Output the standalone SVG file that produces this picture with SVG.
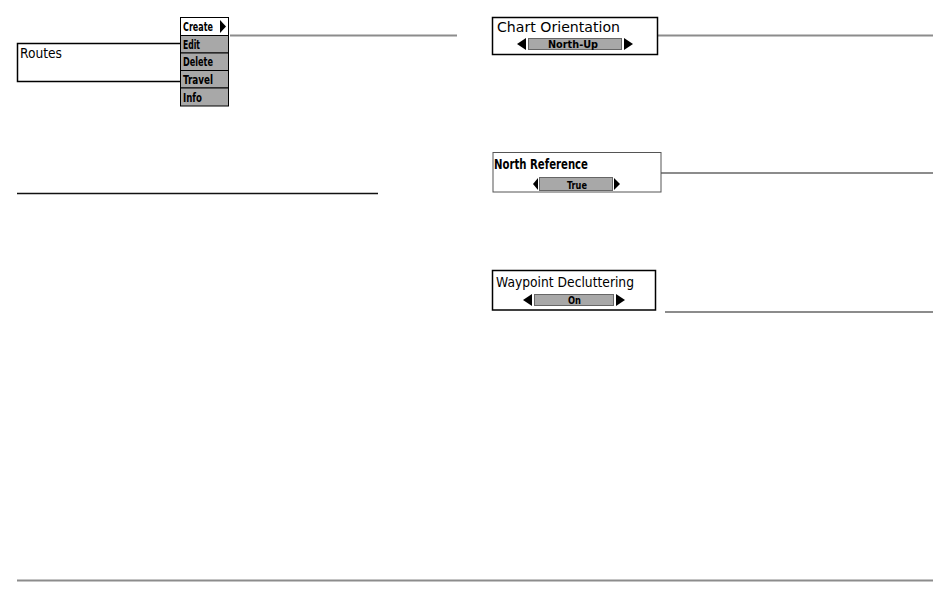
<svg xmlns="http://www.w3.org/2000/svg" width="950" height="600" viewBox="0 0 950 600">
<style>
.box{fill:#fff;stroke:#000;stroke-width:1.5}
.mi{fill:#a8a8a8;stroke:#000;stroke-width:1}
.mt{font-family:"DejaVu Sans","Liberation Sans",sans-serif;font-stretch:condensed;font-weight:bold;font-size:12px;fill:#000}
.title{font-family:"DejaVu Sans","Liberation Sans",sans-serif;font-size:13.5px;fill:#000}
.btitle{font-family:"DejaVu Sans","Liberation Sans",sans-serif;font-stretch:condensed;font-weight:bold;font-size:14px;fill:#000}
.bar{fill:#a8a8a8;stroke:#666;stroke-width:1}
.bt{font-family:"DejaVu Sans","Liberation Sans",sans-serif;font-stretch:condensed;font-weight:bold;font-size:11px;fill:#000}
.lead{stroke:#8c8c8c;stroke-width:2;fill:none}
</style>
<g id="connectors">
<line class="lead" x1="230" y1="35.5" x2="457" y2="35.5"/>
<line class="lead" x1="658" y1="35.5" x2="933" y2="35.5"/>
<line class="lead" x1="661" y1="173" x2="933" y2="173"/>
<line class="lead" x1="665" y1="312" x2="933" y2="312"/>
<line x1="17" y1="193.5" x2="378" y2="193.5" stroke="#111" stroke-width="1.5"/>
<line class="lead" x1="17" y1="580.5" x2="933" y2="580.5"/>
</g>
<g id="routes">
<path d="M181,43.5 H17.5 V81.5 H181" fill="#fff" stroke="#000" stroke-width="1.5"/>
<text x="20" y="58" class="title" textLength="42" lengthAdjust="spacingAndGlyphs">Routes</text>
</g>
<g id="routes-menu">
<rect x="180.5" y="17.5" width="48" height="18" fill="#fff" stroke="#000" stroke-width="1"/>
<text x="183" y="31" class="mt" textLength="30" lengthAdjust="spacingAndGlyphs">Create</text>
<polygon points="220,20 220,33 226,26.5" fill="#000"/>
<rect x="180.5" y="35.5" width="48" height="17.5" class="mi"/>
<text x="183" y="48.5" class="mt" textLength="17" lengthAdjust="spacingAndGlyphs">Edit</text>
<rect x="180.5" y="53" width="48" height="17.5" class="mi"/>
<text x="183" y="66" class="mt" textLength="30" lengthAdjust="spacingAndGlyphs">Delete</text>
<rect x="180.5" y="70.5" width="48" height="17.5" class="mi"/>
<text x="183" y="83.5" class="mt" textLength="30" lengthAdjust="spacingAndGlyphs">Travel</text>
<rect x="180.5" y="88" width="48" height="18" class="mi"/>
<text x="183" y="101.5" class="mt" textLength="19" lengthAdjust="spacingAndGlyphs">Info</text>
</g>
<g id="chart-orientation">
<rect x="492.5" y="17.5" width="165" height="37" class="box"/>
<text x="497" y="31.5" class="title" textLength="123" lengthAdjust="spacingAndGlyphs">Chart Orientation</text>
<rect x="528.5" y="38.5" width="93" height="11" class="bar"/>
<text x="548" y="47.5" class="bt" textLength="50" lengthAdjust="spacingAndGlyphs">North-Up</text>
<polygon points="517,44 526,38 526,50" fill="#000"/>
<polygon points="624,38 624,50 633,44" fill="#000"/>
</g>
<g id="north-reference">
<rect x="493" y="152.5" width="168" height="39.5" fill="#fff" stroke="#555" stroke-width="1"/>
<text x="494" y="169" class="btitle" textLength="94" lengthAdjust="spacingAndGlyphs">North Reference</text>
<rect x="539.5" y="177.5" width="73" height="13" class="bar"/>
<text x="567" y="188.5" class="bt" textLength="20" lengthAdjust="spacingAndGlyphs">True</text>
<polygon points="533,184 538,178 538,190" fill="#000"/>
<polygon points="614,178 614,190 620,184" fill="#000"/>
</g>
<g id="waypoint-decluttering">
<rect x="492.5" y="270.5" width="163" height="39.5" class="box"/>
<text x="496" y="286.5" class="title" textLength="138" lengthAdjust="spacingAndGlyphs">Waypoint Decluttering</text>
<rect x="534.5" y="294.5" width="79" height="11" class="bar"/>
<text x="568" y="303.5" class="bt" textLength="13" lengthAdjust="spacingAndGlyphs">On</text>
<polygon points="523,300 532,294 532,306" fill="#000"/>
<polygon points="616,294 616,306 625,300" fill="#000"/>
</g>
</svg>
